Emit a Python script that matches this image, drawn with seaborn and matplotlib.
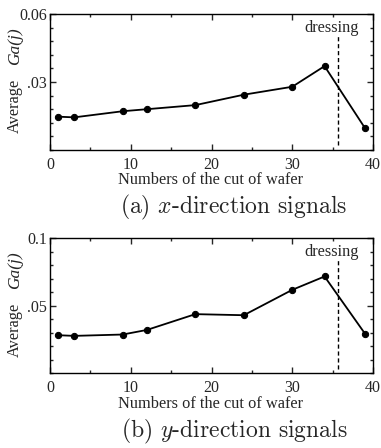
import matplotlib
matplotlib.use("Agg")
import matplotlib.pyplot as plt
import seaborn as sns
import pandas as pd
from matplotlib.ticker import MultipleLocator

sns.set_style("ticks")
plt.rcParams["font.family"] = ["Liberation Serif", "DejaVu Serif"]
plt.rcParams["mathtext.fontset"] = "cm"

cuts = [1, 3, 9, 12, 18, 24, 30, 34, 39]
gx = [0.0147, 0.0144, 0.0171, 0.0180, 0.0198, 0.0244, 0.0279, 0.0370, 0.0097]
gy = [0.0280, 0.0275, 0.0285, 0.0319, 0.0436, 0.0428, 0.0616, 0.0715, 0.0292]
dressing_x = 35.7
x_ticks = [0, 10, 20, 30, 40]
top_yticks = [0.03, 0.06]
top_ylabels = [".03", "0.06"]
bot_yticks = [0.05, 0.1]
bot_ylabels = [".05", "0.1"]
captions = ["(a) $x$-direction signals", "(b) $y$-direction signals"]

W, H = 381, 448
fig = plt.figure(figsize=(W / 100, H / 100), dpi=100)

def fx(px):
    return px / W

def fy(py):
    return 1 - py / H

panels = [
    dict(y=gx, top=14, bot=150, ymax=0.06, minor=0.006, yt=top_yticks, yl=top_ylabels,
         dash=(0.002, 0.0503), dress_y=0.0540, cap=captions[0], off=0),
    dict(y=gy, top=238, bot=373, ymax=0.1, minor=0.01, yt=bot_yticks, yl=bot_ylabels,
         dash=(0.003, 0.084), dress_y=0.0900, cap=captions[1], off=224),
]

for p in panels:
    left, right = 50, 373
    ax = fig.add_axes([fx(left), fy(p["bot"]), fx(right - left), (p["bot"] - p["top"]) / H])
    df = pd.DataFrame({"cut": cuts, "g": p["y"]})
    sns.lineplot(data=df, x="cut", y="g", ax=ax, color="black", marker="o",
                 markersize=4.5, linewidth=1.3, markeredgecolor="black")
    ax.vlines(dressing_x, p["dash"][0], p["dash"][1], colors="black",
              linestyles=(0, (3, 2)), linewidth=1.0)
    ax.text(34.9, p["dress_y"], "dressing", ha="center", va="center", fontsize=11.8)
    ax.set_xlim(0, 40)
    ax.set_ylim(0, p["ymax"])
    ax.set_xticks(x_ticks)
    ax.set_xticklabels([str(v) for v in x_ticks])
    ax.xaxis.set_minor_locator(MultipleLocator(5))
    ax.set_yticks(p["yt"])
    ax.set_yticklabels(p["yl"])
    ax.yaxis.set_minor_locator(MultipleLocator(p["minor"]))
    ax.tick_params(which="both", direction="in", top=True, right=True, width=1.0)
    ax.tick_params(which="major", length=4, labelsize=11.5, pad=2)
    ax.tick_params(axis="x", which="major", pad=5)
    ax.tick_params(which="minor", length=2.5)
    for s in ax.spines.values():
        s.set_linewidth(1.0)
        s.set_color("black")
    ax.set_xlabel("")
    ax.set_ylabel("")
    off = p["off"]
    fig.text(fx(211), fy(off + 180), "Numbers of the cut of wafer", ha="center",
             va="center", fontsize=11.8)
    fig.text(fx(15), fy(off + 106), "Average", rotation=90, ha="center",
             va="center", fontsize=11.8)
    fig.text(fx(15), fy(off + 46), "Ga(j)", rotation=90, ha="center",
             va="center", fontsize=12.5, style="italic")
    fig.text(fx(234), fy(off + 207), p["cap"], ha="center", va="center",
             fontsize=17, family=["cmr10", "DejaVu Serif"])

fig.savefig("out.png", dpi=100)
